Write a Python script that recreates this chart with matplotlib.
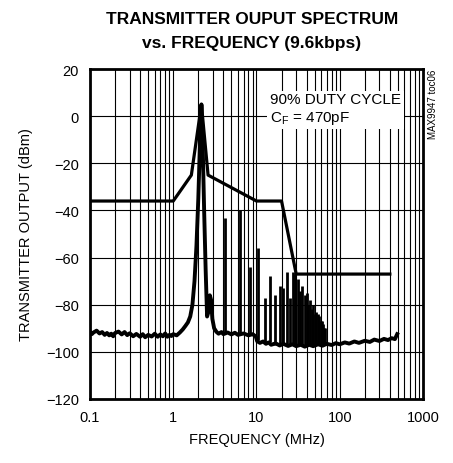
import numpy as np
import matplotlib.pyplot as plt
from matplotlib.ticker import FixedLocator, LogLocator, NullFormatter

plt.rcParams['font.family'] = ['Liberation Sans', 'DejaVu Sans']
plt.rcParams['mathtext.fontset'] = 'custom'
plt.rcParams['mathtext.rm'] = 'Liberation Sans'

# spectral mask (MHz, dBm)
mask_f = [0.1, 1.0, 1.65, 2.18, 2.62, 10.0, 20.0, 30.0, 400.0]
mask_db = [-36, -36, -25, 5, -25, -36, -36, -67, -67]

# measured spectrum: noise floor and carrier (MHz, dBm)
noise_f = [0.10, 0.105, 0.11, 0.12, 0.13, 0.14, 0.15, 0.16, 0.17, 0.18, 0.19, 0.20,
           0.22, 0.24, 0.26, 0.28, 0.30, 0.33, 0.36, 0.40, 0.43, 0.46, 0.50, 0.55,
           0.60, 0.65, 0.70, 0.75, 0.80, 0.85, 0.90, 0.95, 1.00, 1.10, 1.20, 1.30,
           1.40, 1.50, 1.60, 1.70, 1.80, 1.90, 2.00, 2.10, 2.18, 2.25, 2.35, 2.45,
           2.55, 2.65, 2.75, 2.85, 2.95, 3.1, 3.3, 3.5, 3.8, 4.0, 4.5, 5.0, 5.5, 6.0,
           7.0, 8.0, 9.0, 9.8, 10.2, 11, 12, 13, 14, 15, 17, 19, 21, 24, 27, 30, 34,
           38, 43, 48, 55, 62, 70, 80, 90, 100, 115, 130, 150, 170, 200, 230, 260,
           300, 340, 380, 420, 460, 490]
noise_db = [-91.5, -92.5, -91.8, -91.0, -92.2, -91.6, -92.8, -92.0, -93.0, -92.3, -93.4, -92.0,
            -91.4, -92.6, -91.6, -92.9, -92.1, -93.4, -92.4, -93.6, -92.5, -93.8, -92.8, -93.5,
            -92.3, -93.6, -92.6, -93.4, -92.2, -93.6, -92.8, -93.3, -92.5, -93.0, -91.8, -90.5,
            -89.0, -87.5, -85.0, -80.0, -70.0, -55.0, -35.0, -10.0, 5.0, -10.0, -40.0, -65.0,
            -85.0, -83.0, -76.0, -78.0, -86.0, -90.0, -91.5, -92.3, -91.6, -92.5, -91.8, -92.6,
            -91.9, -92.8, -92.2, -93.0, -92.5, -93.5, -95.5, -96.2, -95.6, -96.6, -96.0, -97.0,
            -96.4, -97.3, -96.6, -97.5, -96.8, -97.6, -97.0, -97.8, -97.0, -97.6, -96.8, -97.4,
            -96.6, -97.1, -96.3, -96.8, -96.0, -96.5, -95.6, -96.2, -95.3, -95.8, -94.8, -95.4,
            -94.5, -95.0, -94.2, -94.6, -92.5]

# harmonic spurs (MHz, dBm)
spur_f = [4.2, 6.3, 8.4, 10.5, 12.6, 14.7, 16.8, 18.9, 21.0, 23.1, 25.2, 27.3, 29.4,
          31.5, 33.6, 35.7, 37.8, 39.9, 42.0, 44.1, 46.2, 48.3, 50.4, 52.5, 54.6,
          56.7, 58.8, 60.9, 63.0, 65.1, 67.2]
spur_db = [-43, -40, -64, -56, -77, -68, -76, -72, -73, -66, -77, -66, -67,
           -69, -74, -72, -76, -75, -80, -78, -82, -80, -84, -83, -84,
           -85, -87, -87, -88, -90, -90]
spur_floor = [-92, -92, -93, -95, -96, -96, -97, -97, -97, -97, -97, -97, -97,
              -97, -97, -97, -97, -97, -97, -97, -97, -97, -97, -97, -97,
              -97, -97, -97, -97, -97, -97]

fig = plt.figure(figsize=(4.53, 4.64), dpi=100)
ax = fig.add_axes([0.1987, 0.138, 0.735, 0.711])

ax.plot(noise_f, noise_db, color='black', lw=2.8, solid_joinstyle='round')
ax.vlines(spur_f, spur_floor, spur_db, color='black', lw=2.0)
ax.plot(mask_f, mask_db, color='black', lw=2.3)

ax.set_xscale('log')
ax.set_xlim(0.1, 1000)
ax.set_ylim(-120, 20)
ax.xaxis.set_major_locator(FixedLocator([0.1, 1, 10, 100, 1000]))
ax.xaxis.set_minor_locator(LogLocator(base=10, subs=np.arange(2, 10)))
ax.xaxis.set_minor_formatter(NullFormatter())
ax.set_xticklabels(['0.1', '1', '10', '100', '1000'])
ax.set_yticks(np.arange(-120, 21, 20))
ax.tick_params(which='both', length=0, labelsize=10.5, pad=8)
ax.grid(which='both', color='black', lw=0.8)
for s in ax.spines.values():
    s.set_linewidth(2)

ax.set_xlabel('FREQUENCY (MHz)', fontsize=10.5, labelpad=6)
ax.set_ylabel('TRANSMITTER OUTPUT (dBm)', fontsize=10.5, labelpad=9)
fig.text(0.556, 0.975, 'TRANSMITTER OUPUT SPECTRUM\nvs. FREQUENCY (9.6kbps)', fontsize=12.5,
         fontweight='bold', ha='center', va='top', linespacing=1.75)

ax.text(0.54, 0.93, '90% DUTY CYCLE\nC$_\\mathregular{F}$ = 470pF', transform=ax.transAxes,
        fontsize=11, va='top', ha='left', linespacing=1.25,
        bbox=dict(facecolor='white', edgecolor='none', pad=2))
fig.text(0.955, 0.85, 'MAX9947 toc06', rotation=90, fontsize=7, va='top', ha='center')

fig.savefig('out.png', dpi=100)
